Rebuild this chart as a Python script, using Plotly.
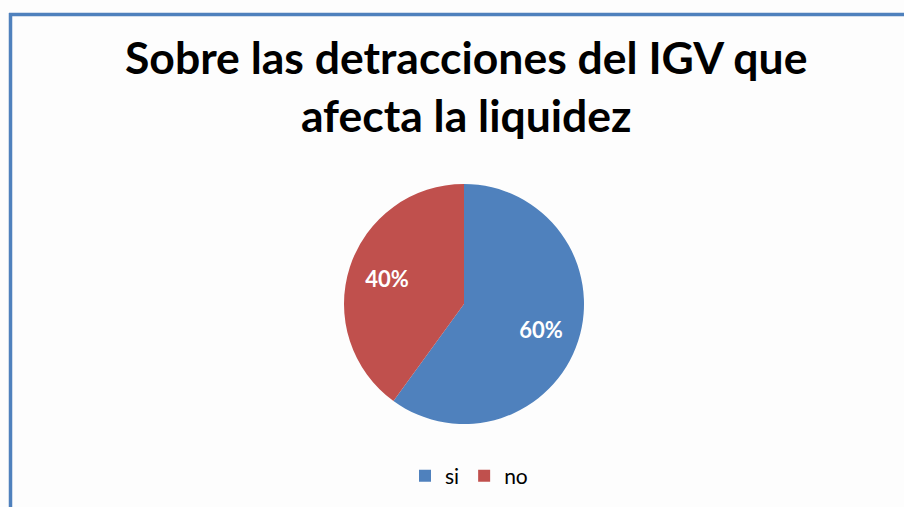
import plotly.graph_objects as go

labels = ["si", "no"]
values = [60, 40]
colors = ["#4F81BD", "#C0504D"]
title_text = "Sobre las detracciones del IGV que<br>afecta la liquidez"

W, H = 904, 507
dom = dict(x=[344 / W, 584 / W], y=[1 - 424 / H, 1 - 184 / H])
fig = go.Figure()
fig.add_trace(go.Pie(
    labels=labels, values=values, sort=False, direction="clockwise", rotation=0,
    marker=dict(colors=colors, line=dict(color="white", width=0)),
    textinfo="none", domain=dom, hoverinfo="skip", showlegend=True,
))
fig.add_trace(go.Pie(
    labels=labels, values=values, sort=False, direction="clockwise", rotation=0, hole=0.35,
    marker=dict(colors=["rgba(0,0,0,0)", "rgba(0,0,0,0)"], line=dict(width=0)),
    texttemplate="%{percent:.0%}", textposition="inside", insidetextorientation="horizontal",
    insidetextfont=dict(family="Lato", size=22, color="white", weight="bold"),
    domain=dom, hoverinfo="skip", showlegend=False,
))
fig.update_layout(
    width=W, height=H, margin=dict(l=0, r=0, t=0, b=0),
    paper_bgcolor="#FDFDFD", plot_bgcolor="#FDFDFD",
    annotations=[dict(text=title_text, xref="paper", yref="paper", x=466 / W, xanchor="center",
                      y=1 - 28 / H, yanchor="top", showarrow=False, align="center",
                      font=dict(family="Lato", size=44.5, color="black", weight="bold"))],
    legend=dict(orientation="h", x=469 / W, xanchor="center", y=1 - 476 / H, yanchor="middle",
                font=dict(family="Lato", size=21, color="black"), itemwidth=30,
                traceorder="normal"),
    shapes=[
        dict(type="line", xref="paper", yref="paper", x0=9 / W, x1=1, y0=1 - 14.5 / H, y1=1 - 14.5 / H,
             line=dict(color="#4F81BD", width=3.5)),
        dict(type="line", xref="paper", yref="paper", x0=10.5 / W, x1=10.5 / W, y0=1 - 13 / H, y1=0,
             line=dict(color="#4F81BD", width=3.5)),
    ],
)
fig.write_html("out.html", config={"displayModeBar": False},
               post_script="document.body.style.margin='0';document.body.style.overflow='hidden';")
